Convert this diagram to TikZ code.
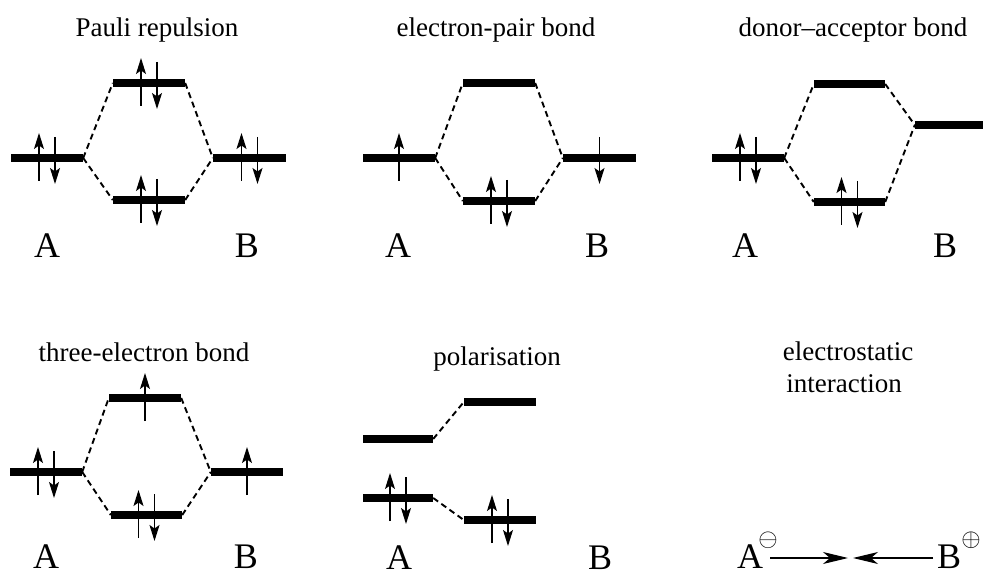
\documentclass[tikz,border=0pt]{standalone}
\usepackage{fontspec}
\setmainfont{Liberation Serif}
\usetikzlibrary{arrows.meta,calc}
\newcommand\spinup[2]{\draw[spin] ([xshift=#2pt,yshift=-23pt]#1.center) -- ([xshift=#2pt,yshift=25pt]#1.center);}
\newcommand\spindn[2]{\draw[spin] ([xshift=#2pt,yshift=21pt]#1.center) -- ([xshift=#2pt,yshift=-26pt]#1.center);}
\newcommand\spinpair[1]{\spinup{#1}{-8}\spindn{#1}{8}}
\begin{document}
\begin{tikzpicture}[x=1pt,y=-1pt,
  lvl/.style={fill=black,inner sep=0pt,minimum width=72pt,minimum height=8pt},
  corr/.style={line width=1.9pt,dash pattern=on 6pt off 4pt},
  spin/.style={line width=1.3pt,-{Stealth[length=16pt,width=10pt,inset=3.5pt]}},
  title/.style={font=\fontsize{27}{32}\selectfont,anchor=base,inner sep=0pt},
  atom/.style={font=\fontsize{36}{40}\selectfont,anchor=base,inner sep=0pt,text depth=0pt},
  pull/.style={line width=1.1pt,-{Stealth[length=25pt,width=12pt,inset=7pt]}}]
\useasboundingbox (0,0) rectangle (983,577);
% ---------- Pauli repulsion
\node[title] (t1) at (157,37) {Pauli repulsion};
\node[lvl] (p1a) at (47,158) {};
\node[lvl] (p1u) at (149,83) {};
\node[lvl] (p1l) at (149,200) {};
\node[lvl,minimum width=73pt] (p1b) at (249.5,158) {};
\draw[corr] (p1a.east) -- (p1u.west);
\draw[corr] (p1a.east) -- (p1l.west);
\draw[corr] (p1u.east) -- (p1b.west);
\draw[corr] (p1l.east) -- (p1b.west);
\spinpair{p1a}\spinpair{p1u}\spinpair{p1l}\spinpair{p1b}
\node[atom] (a1) at (47,258) {A};
\node[atom] (b1) at (247,258) {B};
% ---------- electron-pair bond
\node[title] (t2) at (496,37) {electron-pair bond};
\node[lvl] (p2a) at (399,158) {};
\node[lvl] (p2u) at (499,83) {};
\node[lvl] (p2l) at (499,201) {};
\node[lvl,minimum width=73pt] (p2b) at (599.5,158) {};
\draw[corr] (p2a.east) -- (p2u.west);
\draw[corr] (p2a.east) -- (p2l.west);
\draw[corr] (p2u.east) -- (p2b.west);
\draw[corr] (p2l.east) -- (p2b.west);
\spinup{p2a}{0}\spinpair{p2l}\spindn{p2b}{0}
\node[atom] (a2) at (398,258) {A};
\node[atom] (b2) at (597,258) {B};
% ---------- donor-acceptor bond
\node[title] (t3) at (853,37) {donor–acceptor bond};
\node[lvl] (p3a) at (748,158) {};
\node[lvl,minimum width=71pt] (p3u) at (849.5,84) {};
\node[lvl,minimum width=71pt] (p3l) at (849.5,202) {};
\node[lvl,minimum width=68pt] (p3b) at (949,125) {};
\draw[corr] (p3a.east) -- (p3u.west);
\draw[corr] (p3a.east) -- (p3l.west);
\draw[corr] (p3u.east) -- (p3b.west);
\draw[corr] (p3l.east) -- (p3b.west);
\spinpair{p3a}\spinpair{p3l}
\node[atom] (a3) at (745,258) {A};
\node[atom] (b3) at (945,258) {B};
% ---------- three-electron bond
\node[title] (t4) at (144,362) {three-electron bond};
\node[lvl] (p4a) at (46,472) {};
\node[lvl] (p4u) at (145,398) {};
\node[lvl,minimum width=71pt] (p4l) at (146.5,515) {};
\node[lvl] (p4b) at (247,472) {};
\draw[corr] (p4a.east) -- (p4u.west);
\draw[corr] (p4a.east) -- (p4l.west);
\draw[corr] (p4u.east) -- (p4b.west);
\draw[corr] (p4l.east) -- (p4b.west);
\spinpair{p4a}\spinup{p4u}{0}\spinpair{p4l}\spinup{p4b}{0}
\node[atom] (a4) at (46,568) {A};
\node[atom] (b4) at (246,568) {B};
% ---------- polarisation
\node[title] (t5) at (497,366) {polarisation};
\node[lvl,minimum width=70pt] (p5au) at (398,439) {};
\node[lvl] (p5bu) at (500,402) {};
\node[lvl,minimum width=70pt] (p5al) at (398,498) {};
\node[lvl] (p5bl) at (500,520) {};
\draw[corr] (p5au.east) -- (p5bu.west);
\draw[corr] (p5al.east) -- (p5bl.west);
\spinpair{p5al}\spinpair{p5bl}
\node[atom] (a5) at (399,569) {A};
\node[atom] (b5) at (600,569) {B};
% ---------- electrostatic interaction
\node[title] (t6a) at (848,360) {electrostatic};
\node[title] (t6b) at (844,392) {interaction};
\node[atom] (a6) at (750,568) {A};
\node[atom] (b6) at (949,568) {B};
\node[inner sep=0pt,font=\fontsize{31}{31}\selectfont] (qm) at (768,540) {$\ominus$};
\node[inner sep=0pt,font=\fontsize{31}{31}\selectfont] (qp) at (971,540) {$\oplus$};
\coordinate (s6a) at (770,558);
\coordinate (e6a) at (848,558);
\coordinate (s6b) at (933,558);
\coordinate (e6b) at (853,558);
\draw[pull] (s6a) -- (e6a);
\draw[pull] (s6b) -- (e6b);
\end{tikzpicture}
\end{document}
